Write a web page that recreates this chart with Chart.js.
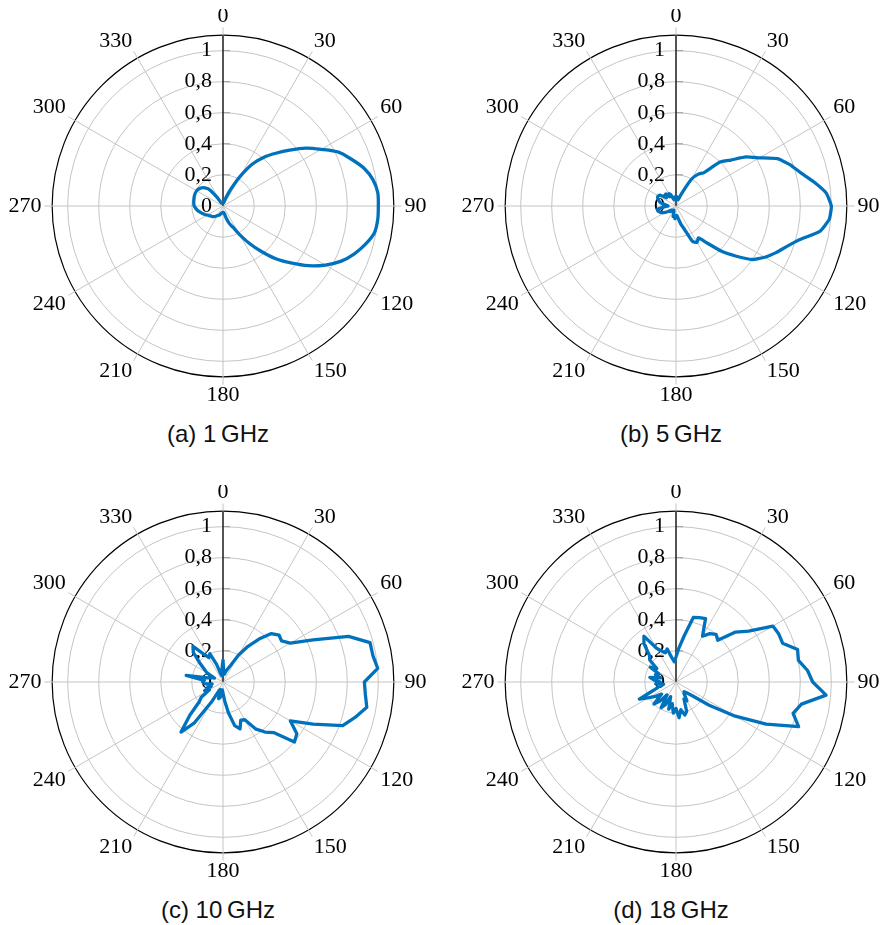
<!DOCTYPE html>
<html lang="en">
<head>
<meta charset="UTF-8">
<title>Radiation patterns</title>
<script src="https://cdn.jsdelivr.net/npm/chart.js"></script>
<style>
  body { margin: 0; background: #fff; overflow: hidden; }
  #page { position: relative; width: 881px; height: 925px; overflow: hidden; }
  .polar { position: absolute; }
  .caption {
    position: absolute; width: 200px; text-align: center;
    font-family: "Liberation Sans", Arial, sans-serif; font-size: 24px;
    line-height: 1; color: #111; white-space: nowrap;
  }
</style>
</head>
<body>
<div id="page">
  <canvas id="c1" class="polar" width="440" height="394" style="left:-2px;top:9px"></canvas>
  <canvas id="c2" class="polar" width="440" height="394" style="left:451px;top:9px"></canvas>
  <canvas id="c3" class="polar" width="440" height="394" style="left:-2px;top:485px"></canvas>
  <canvas id="c4" class="polar" width="440" height="394" style="left:451px;top:485px"></canvas>
  <div class="caption" style="left:118px;top:422px">(a) 1&thinsp;GHz</div>
  <div class="caption" style="left:571px;top:422px">(b) 5&thinsp;GHz</div>
  <div class="caption" style="left:118px;top:898px">(c) 10&thinsp;GHz</div>
  <div class="caption" style="left:571px;top:898px">(d) 18&thinsp;GHz</div>
</div>
<script>
// angle (deg, clockwise from top)
const angles = [0, 5, 10, 15, 20, 25, 30, 35, 40, 45, 50, 55, 60, 65, 70, 75, 80, 85,
  90, 95, 100, 105, 110, 115, 120, 125, 130, 135, 140, 145, 150, 155, 160, 165, 170, 175,
  180, 185, 190, 195, 200, 205, 210, 215, 220, 225, 230, 235, 240, 245, 250, 255, 260, 265,
  270, 275, 280, 285, 290, 295, 300, 305, 310, 315, 320, 325, 330, 335, 340, 345, 350, 355];

// normalised gain, one value per angle
const gain1GHz = [0.02, 0.02, 0.02, 0.03, 0.06, 0.12, 0.22, 0.33, 0.41, 0.48, 0.56, 0.65,
  0.73, 0.82, 0.88, 0.94, 0.98, 1.0, 1.0, 1.0, 0.99, 0.95, 0.9, 0.84,
  0.76, 0.67, 0.57, 0.48, 0.38, 0.29, 0.21, 0.15, 0.12, 0.08, 0.05, 0.04,
  0.04, 0.04, 0.045, 0.05, 0.06, 0.065, 0.07, 0.08, 0.088, 0.095, 0.1, 0.107,
  0.115, 0.128, 0.14, 0.152, 0.165, 0.175, 0.185, 0.188, 0.19, 0.192, 0.195, 0.196,
  0.195, 0.19, 0.18, 0.165, 0.14, 0.07, 0.03, 0.02, 0.02, 0.02, 0.02, 0.02];

const gain5GHz = [0.05, 0.06, 0.04, 0.04, 0.05, 0.1, 0.2, 0.25, 0.28, 0.4, 0.46, 0.55,
  0.62, 0.72, 0.78, 0.83, 0.9, 0.97, 1.0, 0.99, 0.94, 0.83, 0.76, 0.71,
  0.66, 0.6, 0.5, 0.41, 0.31, 0.25, 0.27, 0.25, 0.16, 0.12, 0.08, 0.06,
  0.07, 0.08, 0.06, 0.07, 0.04, 0.03, 0.03, 0.03, 0.04, 0.05, 0.04, 0.06,
  0.08, 0.1, 0.11, 0.12, 0.12, 0.08, 0.05, 0.06, 0.09, 0.11, 0.12, 0.13,
  0.13, 0.12, 0.08, 0.1, 0.1, 0.07, 0.09, 0.08, 0.05, 0.04, 0.05, 0.06];

const gain10GHz = [0.14, 0.06, 0.05, 0.07, 0.09, 0.12, 0.2, 0.28, 0.36, 0.44, 0.47, 0.46,
  0.5, 0.64, 0.86, 0.98, 0.98, 1.0, 0.91, 0.92, 0.94, 0.88, 0.82, 0.64,
  0.5, 0.58, 0.6, 0.46, 0.42, 0.37, 0.28, 0.27, 0.32, 0.29, 0.2, 0.12,
  0.07, 0.05, 0.1, 0.11, 0.05, 0.06, 0.15, 0.32, 0.42, 0.3, 0.2, 0.17,
  0.1, 0.13, 0.08, 0.1, 0.07, 0.12, 0.13, 0.12, 0.24, 0.1, 0.08, 0.06,
  0.12, 0.15, 0.2, 0.27, 0.3, 0.22, 0.18, 0.2, 0.12, 0.05, 0.04, 0.08];

const gain18GHz = [0.16, 0.22, 0.3, 0.43, 0.44, 0.45, 0.34, 0.38, 0.4, 0.38, 0.5, 0.57,
  0.72, 0.73, 0.73, 0.81, 0.8, 0.85, 0.88, 0.97, 0.82, 0.78, 0.84, 0.64,
  0.44, 0.26, 0.14, 0.1, 0.08, 0.09, 0.14, 0.12, 0.2, 0.22, 0.18, 0.23,
  0.17, 0.2, 0.14, 0.18, 0.1, 0.16, 0.19, 0.1, 0.16, 0.2, 0.12, 0.16,
  0.2, 0.26, 0.15, 0.11, 0.08, 0.13, 0.1, 0.14, 0.17, 0.1, 0.14, 0.12,
  0.19, 0.15, 0.22, 0.24, 0.32, 0.36, 0.25, 0.22, 0.2, 0.22, 0.16, 0.13];

// radial ticks; the last one is the outer rim
const tickValues = [0, 0.2, 0.4, 0.6, 0.8, 1, 1.1];
// black 0-degree axis: from the rim down to the centre
const axisLine = [1.1, 0];

const lineBlue = '#0072bd';
const gridGray = '#c4c4c4';
const serif = 'Liberation Serif, DejaVu Serif, serif';

// label sits left of the axis: pad with spaces (digit = 2 spaces, comma = 1)
function tickText(v) {
  if (v > 1.05) return '';
  const s = String(v).replace('.', ',');
  let pad = 4;
  for (const ch of s) pad += ch === ',' ? 1 : 2;
  return s + '\u00a0'.repeat(pad);
}

// small tick marks right of the axis
const tickMarks = {
  id: 'tickMarks',
  beforeDatasetsDraw(chart) {
    const r = chart.scales.r;
    const ctx = chart.ctx;
    ctx.save();
    ctx.strokeStyle = '#999';
    ctx.lineWidth = 1;
    tickValues.forEach(v => {
      if (v <= 0 || v > 1.05) return;
      const p = r.getPointPositionForValue(0, v);
      ctx.beginPath();
      ctx.moveTo(p.x, p.y);
      ctx.lineTo(p.x + 7, p.y);
      ctx.stroke();
    });
    ctx.restore();
  }
};

function polarChart(id, values, tension) {
  return new Chart(document.getElementById(id), {
    type: 'radar',
    data: {
      labels: angles,
      datasets: [
        {
          data: values,
          borderColor: lineBlue,
          borderWidth: 3.3,
          borderJoinStyle: 'round',
          pointRadius: 0,
          fill: false,
          tension: tension
        },
        {
          data: axisLine,
          borderColor: '#000',
          borderWidth: 1.3,
          pointRadius: 0,
          fill: false,
          tension: 0
        }
      ]
    },
    options: {
      responsive: false,
      animation: false,
      events: [],
      plugins: { legend: { display: false }, tooltip: { enabled: false } },
      scales: {
        r: {
          min: -0.001,
          max: 1.15,
          bounds: 'data',
          afterBuildTicks: scale => { scale.ticks = tickValues.map(v => ({ value: v })); },
          ticks: {
            showLabelBackdrop: false,
            backdropPadding: -11,
            color: '#000',
            font: { family: serif, size: 22 },
            callback: tickText
          },
          grid: {
            circular: true,
            color: c => {
              const v = c.tick ? c.tick.value : 0;
              if (v > 1.05) return '#000';
              return v > 0 ? gridGray : 'rgba(0,0,0,0)';
            },
            lineWidth: c => (c.tick && c.tick.value > 1.05 ? 1.2 : 1)
          },
          angleLines: {
            color: c => (c.index % 6 === 0 ? gridGray : 'rgba(0,0,0,0)'),
            lineWidth: c => (c.index % 6 === 0 ? 1 : 0)
          },
          pointLabels: {
            padding: 3,
            color: '#000',
            font: { family: serif, size: 22, lineHeight: 0.7 },
            callback: label => (label % 30 === 0 ? String(label) : '')
          }
        }
      }
    },
    plugins: [tickMarks]
  });
}

polarChart('c1', gain1GHz, 0.3);
polarChart('c2', gain5GHz, 0.15);
polarChart('c3', gain10GHz, 0);
polarChart('c4', gain18GHz, 0);
</script>
</body>
</html>
